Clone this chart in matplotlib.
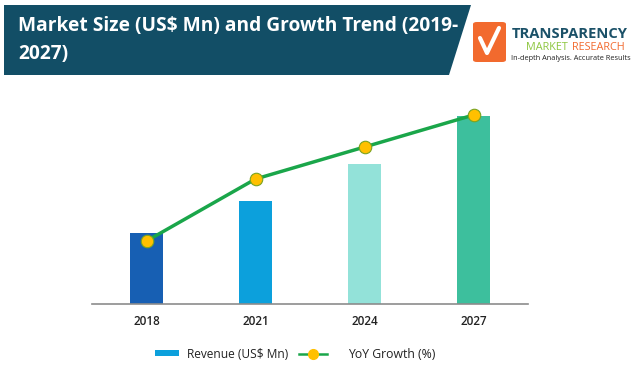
import matplotlib
matplotlib.use("Agg")
import matplotlib.pyplot as plt
from matplotlib.patches import Polygon, FancyBboxPatch, Rectangle
from matplotlib.lines import Line2D

plt.rcParams['font.family'] = ['Open Sans', 'DejaVu Sans']

years = ["2018", "2021", "2024", "2027"]
revenue = [71, 103, 140, 188]
yoy_growth = [63, 125, 157, 189]
bar_colors = ["#175fb3", "#0ca0dc", "#93e2d9", "#3dbf9d"]

W, H = 636, 373
fig = plt.figure(figsize=(W / 100, H / 100), dpi=100)


def fx(px):
    return px / W


def fy(py):
    return 1 - py / H


# header banner
banner = Polygon([(fx(4), fy(5)), (fx(471), fy(5)), (fx(449), fy(75)), (fx(4), fy(75))],
                 closed=True, transform=fig.transFigure, facecolor="#124e66", edgecolor="none")
fig.patches.append(banner)
fig.text(fx(18), fy(26), "Market Size (US$ Mn) and Growth Trend (2019-", color="white",
         fontsize=13.8, fontweight="bold", va="center", ha="left")
fig.text(fx(18), fy(54), "2027)", color="white",
         fontsize=13.8, fontweight="bold", va="center", ha="left")

# logo
logo_box = FancyBboxPatch((fx(473), fy(62)), fx(33), fy(22) - fy(62),
                          boxstyle="round,pad=0,rounding_size=0.006",
                          transform=fig.transFigure, facecolor="#f26a2e", edgecolor="none")
fig.patches.append(logo_box)
check = Line2D([fx(480), fx(487), fx(499)], [fy(38), fy(53), fy(28)],
               transform=fig.transFigure, color="white", lw=3, solid_capstyle="round")
fig.lines.append(check)
fig.text(fx(512), fy(34), "TRANSPARENCY", color="#1b5168", fontsize=10.6,
         fontweight="bold", va="center", ha="left")
fig.text(fx(526), fy(48), "MARKET", color="#8dc63f", fontsize=7.8,
         va="center", ha="left")
fig.text(fx(572), fy(48), "RESEARCH", color="#f26a2e", fontsize=7.8,
         va="center", ha="left")
fig.text(fx(511), fy(59), "In-depth Analysis. Accurate Results", color="#222222",
         fontsize=5.3, va="center", ha="left")

# chart
ax = fig.add_axes([fx(92), fy(304), fx(528) - fx(92), fy(100) - fy(304)])
x = range(len(years))
ax.bar(x, revenue, width=0.31, color=bar_colors, zorder=2)
ax.set_xlim(-0.5, 3.5)
ax.set_ylim(0, 204)
ax.set_xticks(list(x))
ax.set_xticklabels(years, fontsize=8.5, color="#222222", fontweight="semibold")
ax.tick_params(axis="x", length=0, pad=8)
ax.set_yticks([])
for s in ["top", "right", "left"]:
    ax.spines[s].set_visible(False)
ax.spines["bottom"].set_color("#8c8c8c")
ax.spines["bottom"].set_linewidth(1.2)

ax2 = ax.twinx()
ax2.plot(x, yoy_growth, color="#1aa64a", lw=2.5, marker="o", markersize=9,
         markerfacecolor="#ffc000", markeredgecolor="#7aa320", markeredgewidth=0.8, zorder=3)
ax2.set_ylim(0, 204)
ax2.set_yticks([])
ax2.axis("off")

# legend
fig.patches.append(Rectangle((fx(155), fy(356)), fx(24), fy(350) - fy(356),
                             transform=fig.transFigure, facecolor="#0ca0dc", edgecolor="none"))
fig.text(fx(187), fy(354), "Revenue (US$ Mn)", fontsize=8.6, color="#222222", va="center", ha="left")
fig.lines.append(Line2D([fx(299), fx(327)], [fy(354), fy(354)], transform=fig.transFigure,
                        color="#1aa64a", lw=1.8))
fig.lines.append(Line2D([fx(313)], [fy(354)], transform=fig.transFigure, marker="o",
                        markersize=7, markerfacecolor="#ffc000", markeredgecolor="#ffc000"))
fig.text(fx(348), fy(354), "YoY Growth (%)", fontsize=8.8, color="#222222", va="center", ha="left")

fig.savefig("out.png", dpi=100)
